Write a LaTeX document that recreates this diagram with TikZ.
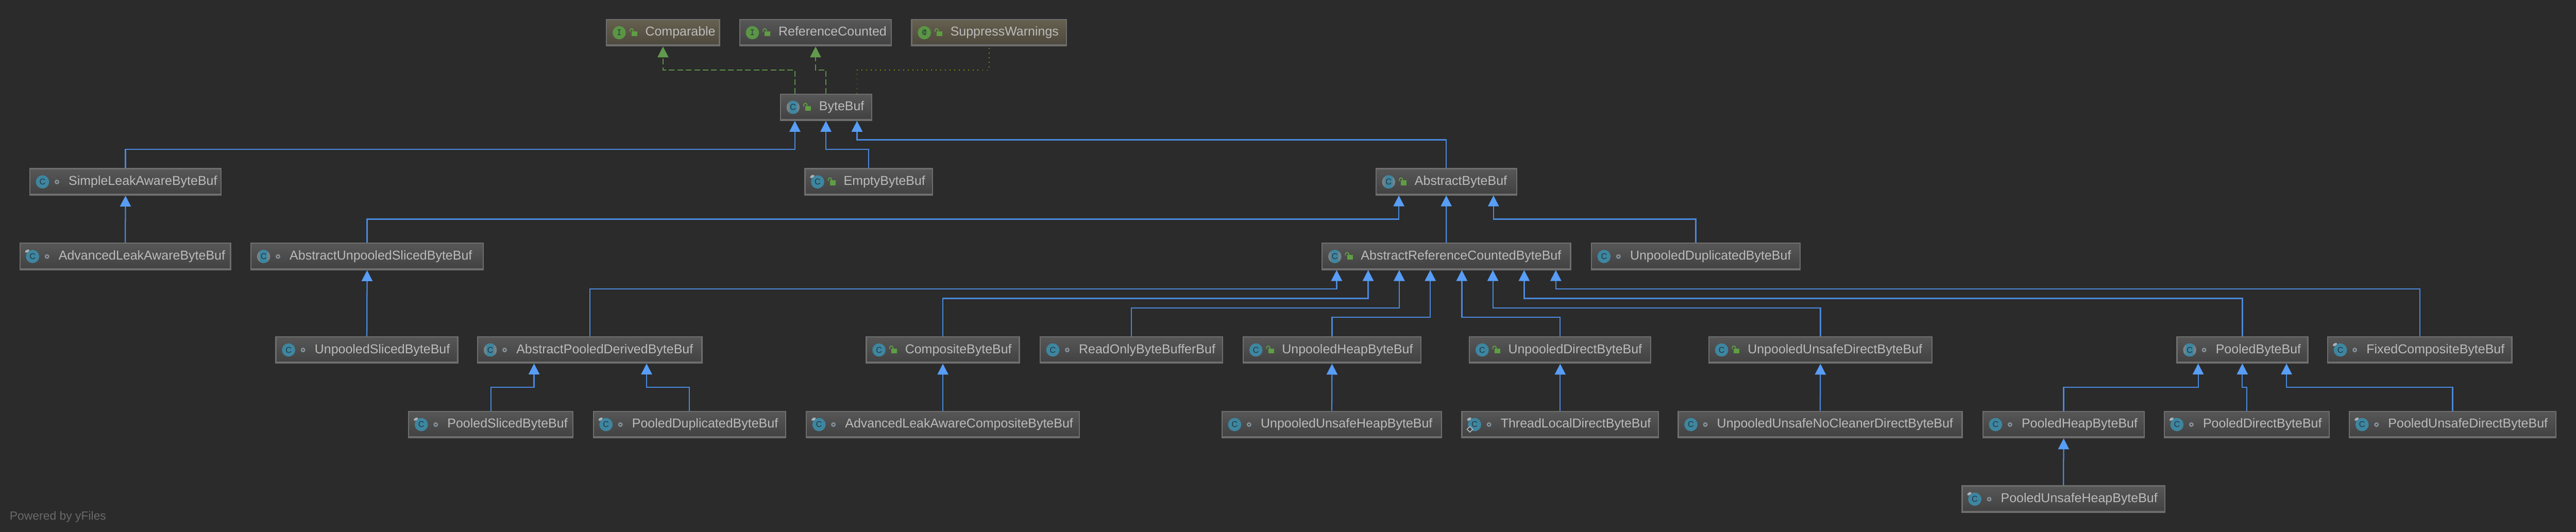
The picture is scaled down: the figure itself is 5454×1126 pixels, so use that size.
\documentclass[tikz,border=0pt]{standalone}
\usepackage{fontspec}
\setmainfont{Liberation Sans}
\usetikzlibrary{arrows.meta}
\definecolor{canvas}{HTML}{2B2B2B}
\definecolor{boxedge}{HTML}{6E6E6E}
\definecolor{boxtop}{HTML}{575757}
\definecolor{boxlow}{HTML}{414141}
\definecolor{annotop}{HTML}{66604F}
\definecolor{annolow}{HTML}{4C483C}
\definecolor{labelgray}{HTML}{BBBBBB}
\definecolor{footgray}{HTML}{6A6A6A}
\definecolor{extline}{HTML}{4A88DC}
\definecolor{exttip}{HTML}{589DF6}
\definecolor{implline}{HTML}{5C8F48}
\definecolor{impltip}{HTML}{619A4D}
\definecolor{annoline}{HTML}{7F8C00}
\definecolor{classblue}{HTML}{3E86A0}
\definecolor{ifacegreen}{HTML}{5A9645}
\definecolor{markdark}{HTML}{23343D}
\definecolor{abstractgray}{HTML}{75838B}
\definecolor{pingray}{HTML}{A9B2B8}
\definecolor{lockgreen}{HTML}{5F9E42}
\definecolor{ringgray}{HTML}{87929A}
\tikzstyle{classbox} = [anchor=north west, draw=boxedge, line width=0.7pt, inner xsep=0pt, inner ysep=0pt,
    top color=boxtop, bottom color=boxlow, text=labelgray, font=\fontsize{7.75}{9}\selectfont,
    text width={(#1-2)*0.01cm}, align=left, minimum height=0.56cm, text height=5.6pt, text depth=1.6pt,
    execute at begin node={\hspace*{0.82cm}},
    path picture={\fill[boxedge] ([yshift=0.035cm]path picture bounding box.south west) rectangle (path picture bounding box.south east);}]
\tikzstyle{annobox} = [top color=annotop, bottom color=annolow]
\tikzstyle{extends} = [draw=extline, line width=0.7pt, -{Triangle[length=0.23cm, width=0.23cm, color=exttip]}]
\tikzstyle{implements} = [draw=implline, line width=0.6pt, dash pattern=on 3.4pt off 1.7pt, -{Triangle[length=0.23cm, width=0.23cm, color=impltip]}]
\tikzstyle{annotated} = [draw=annoline, line width=0.55pt, dash pattern=on 0.6pt off 2.2pt]
\tikzstyle{markletter} = [circle, inner sep=0pt, minimum size=0.28cm, text=markdark]
% class marks, the shift puts them in the left end of a box
\newcommand{\markclass}[1]{\node[markletter, fill=classblue, font=\fontsize{5}{5}\selectfont] (#1-mark) at ([xshift=0.28cm]#1.west) {C};}
\newcommand{\markabstract}[1]{
    \node[markletter, fill=abstractgray, font=\fontsize{5}{5}\selectfont, path picture={\fill[classblue] ([xshift=0.057cm]path picture bounding box.south west) rectangle ([xshift=-0.057cm]path picture bounding box.north east);}] (#1-mark) at ([xshift=0.28cm]#1.west) {C};
}
\newcommand{\markfinal}[1]{
    \markclass{#1}
    \fill[pingray, shift={([shift={(-0.115cm,0.115cm)}]#1-mark.center)}, rotate=30] (0,0) ellipse (0.05cm and 0.028cm);
}
\newcommand{\marklock}[1]{
    \begin{scope}[shift={(#1.west)}]
        \fill[lockgreen] (54,-3) rectangle (66,7);
        \draw[lockgreen, line width=0.55pt] (50.7,-2) -- (50.7,-5) arc (180:360:3.5) -- (57.7,-3);
    \end{scope}
}
\begin{document}
\begin{tikzpicture}[x=0.01cm, y=-0.01cm]
    \useasboundingbox (0,0) rectangle (5454,1126);
    \fill[canvas] (-10,-10) rectangle (5464,1136);
    % top row
    \node[classbox=241, annobox] (comparable) at (1283,40) {Comparable};
    \node[classbox=323] (refcounted) at (1565,40) {ReferenceCounted};
    \node[classbox=330, annobox] (suppress) at (1929,40) {SuppressWarnings};
    \node[classbox=195] (bytebuf) at (1651,198) {ByteBuf};
    % second level
    \node[classbox=407] (simpleleak) at (62,356) {SimpleLeakAwareByteBuf};
    \node[classbox=272] (empty) at (1703,356) {EmptyByteBuf};
    \node[classbox=300] (abstractbuf) at (2912,356) {AbstractByteBuf};
    % third level
    \node[classbox=448] (advancedleak) at (41,514) {AdvancedLeakAwareByteBuf};
    \node[classbox=494] (abstractsliced) at (530,514) {AbstractUnpooledSlicedByteBuf};
    \node[classbox=528] (abstractcounted) at (2798,514) {AbstractReferenceCountedByteBuf};
    \node[classbox=444] (unpoolduplicated) at (3368,514) {UnpooledDuplicatedByteBuf};
    % fourth level
    \node[classbox=387] (unpoolsliced) at (583,712) {UnpooledSlicedByteBuf};
    \node[classbox=477] (poolderived) at (1010,712) {AbstractPooledDerivedByteBuf};
    \node[classbox=326] (composite) at (1833,712) {CompositeByteBuf};
    \node[classbox=388] (readonly) at (2201,712) {ReadOnlyByteBufferBuf};
    \node[classbox=378] (unpoolheap) at (2631,712) {UnpooledHeapByteBuf};
    \node[classbox=386] (unpooldirect) at (3110,712) {UnpooledDirectByteBuf};
    \node[classbox=474] (unpoolunsafe) at (3617,712) {UnpooledUnsafeDirectByteBuf};
    \node[classbox=279] (pooledbuf) at (4608,712) {PooledByteBuf};
    \node[classbox=392] (fixedcomposite) at (4927,712) {FixedCompositeByteBuf};
    % fifth level
    \node[classbox=350] (poolsliced) at (864,870) {PooledSlicedByteBuf};
    \node[classbox=409] (poolduplicated) at (1255,870) {PooledDuplicatedByteBuf};
    \node[classbox=580] (advancedcomposite) at (1706,870) {AdvancedLeakAwareCompositeByteBuf};
    \node[classbox=467] (unpoolunsafeheap) at (2586,870) {UnpooledUnsafeHeapByteBuf};
    \node[classbox=418] (threadlocal) at (3094,870) {ThreadLocalDirectByteBuf};
    \node[classbox=603] (nocleaner) at (3552,870) {UnpooledUnsafeNoCleanerDirectByteBuf};
    \node[classbox=344] (poolheap) at (4197,870) {PooledHeapByteBuf};
    \node[classbox=351] (pooldirect) at (4581,870) {PooledDirectByteBuf};
    \node[classbox=439] (poolunsafedirect) at (4973,870) {PooledUnsafeDirectByteBuf};
    \node[classbox=431] (poolunsafeheap) at (4153,1028) {PooledUnsafeHeapByteBuf};
    \node[anchor=base west, text=footgray, inner sep=0pt, font=\fontsize{7.1}{9}\selectfont] (powered) at (20,1101) {Powered by yFiles};
    % marks
    \foreach \name in {simpleleak,unpoolsliced,unpoolduplicated,composite,readonly,unpoolheap,unpooldirect,unpoolunsafe,unpoolunsafeheap,nocleaner,poolheap}
        \markclass{\name};
    \foreach \name in {bytebuf,abstractbuf,abstractcounted,abstractsliced,poolderived,pooledbuf}
        \markabstract{\name};
    \foreach \name in {empty,advancedleak,poolsliced,poolduplicated,advancedcomposite,threadlocal,pooldirect,poolunsafedirect,fixedcomposite,poolunsafeheap}
        \markfinal{\name};
    \draw[pingray, fill=boxlow, line width=0.55pt] ([shift={(-0.16cm,-0.1cm)}]threadlocal-mark.center) -- ([shift={(-0.1cm,-0.04cm)}]threadlocal-mark.center) -- ([shift={(-0.04cm,-0.1cm)}]threadlocal-mark.center) -- ([shift={(-0.1cm,-0.16cm)}]threadlocal-mark.center) -- cycle;
    \node[markletter, fill=ifacegreen, font=\ttfamily\fontsize{5.5}{6}\selectfont] (comparable-mark) at ([xshift=0.28cm]comparable.west) {I};
    \node[markletter, fill=ifacegreen, font=\ttfamily\fontsize{5.5}{6}\selectfont] (refcounted-mark) at ([xshift=0.28cm]refcounted.west) {I};
    \node[markletter, fill=ifacegreen, font=\ttfamily\fontsize{5.5}{6}\selectfont] (suppress-mark) at ([xshift=0.28cm]suppress.west) {@};
    % public ones have a lock, the others a ring
    \foreach \name in {comparable,refcounted,suppress,bytebuf,empty,abstractbuf,abstractcounted,composite,unpoolheap,unpooldirect,unpoolunsafe}
        \marklock{\name};
    \foreach \name in {simpleleak,advancedleak,abstractsliced,unpoolsliced,unpoolduplicated,poolderived,readonly,pooledbuf,fixedcomposite,poolsliced,poolduplicated,advancedcomposite,unpoolunsafeheap,threadlocal,nocleaner,poolheap,pooldirect,poolunsafedirect,poolunsafeheap}
        \draw[ringgray, line width=0.75pt] ([xshift=0.585cm]\name.west) circle (0.035cm);
    % where the arrows meet their parents
    \foreach \i/\x in {1/1683,2/1748.6,3/1814.5}
        \coordinate (bytebuf\i) at (\x,256);
    \foreach \i/\x in {1/1683,2/1748.6,3/1814.5}
        \coordinate (bytebuftop\i) at (\x,198);
    \foreach \i/\x in {1/2961.7,2/3062,3/3162}
        \coordinate (abstractbuf\i) at (\x,414);
    \foreach \i/\x in {1/2830,2/2896.7,3/2962.5,4/3028.3,5/3095,6/3160.7,7/3227,8/3294}
        \coordinate (counted\i) at (\x,572);
    \foreach \i/\x in {1/1130.7,2/1369}
        \coordinate (derived\i) at (\x,770);
    \foreach \i/\x in {1/4654,2/4747.5,3/4841}
        \coordinate (pooled\i) at (\x,770);
    % interfaces
    \draw[implements] (bytebuftop1) -- (bytebuftop1 |- 0,148) -| (comparable.south);
    \draw[implements] (bytebuftop2) -- (bytebuftop2 |- 0,148) -| (refcounted.south);
    \draw[annotated] (bytebuftop3) -- (bytebuftop3 |- 0,148) -| (suppress.south);
    % inheritance
    \draw[extends] (simpleleak.north) -- (simpleleak.north |- 0,316) -| (bytebuf1);
    \draw[extends] (empty.north) -- (empty.north |- 0,316) -| (bytebuf2);
    \draw[extends] (abstractbuf.north) -- (abstractbuf.north |- 0,296) -| (bytebuf3);
    \draw[extends] (advancedleak.north) -- (simpleleak.south);
    \draw[extends] (abstractsliced.north) -- (abstractsliced.north |- 0,464) -| (abstractbuf1);
    \draw[extends] (abstractcounted.north) -- (abstractbuf2);
    \draw[extends] (unpoolduplicated.north) -- (unpoolduplicated.north |- 0,464) -| (abstractbuf3);
    \draw[extends] (unpoolsliced.north) -- (abstractsliced.south);
    \draw[extends] (poolderived.north) -- (poolderived.north |- 0,612) -| (counted1);
    \draw[extends] (composite.north) -- (composite.north |- 0,632) -| (counted2);
    \draw[extends] (readonly.north) -- (readonly.north |- 0,652) -| (counted3);
    \draw[extends] (unpoolheap.north) -- (unpoolheap.north |- 0,672) -| (counted4);
    \draw[extends] (unpooldirect.north) -- (unpooldirect.north |- 0,672) -| (counted5);
    \draw[extends] (unpoolunsafe.north) -- (unpoolunsafe.north |- 0,652) -| (counted6);
    \draw[extends] (pooledbuf.north) -- (pooledbuf.north |- 0,632) -| (counted7);
    \draw[extends] (fixedcomposite.north) -- (fixedcomposite.north |- 0,612) -| (counted8);
    \draw[extends] (poolsliced.north) -- (poolsliced.north |- 0,820) -| (derived1);
    \draw[extends] (poolduplicated.north) -- (poolduplicated.north |- 0,820) -| (derived2);
    \draw[extends] (advancedcomposite.north) -- (composite.south);
    \draw[extends] (unpoolunsafeheap.north) -- (unpoolheap.south);
    \draw[extends] (threadlocal.north) -- (unpooldirect.south);
    \draw[extends] (nocleaner.north) -- (unpoolunsafe.south);
    \draw[extends] (poolheap.north) -- (poolheap.north |- 0,820) -| (pooled1);
    \draw[extends] (pooldirect.north) -- (pooldirect.north |- 0,820) -| (pooled2);
    \draw[extends] (poolunsafedirect.north) -- (poolunsafedirect.north |- 0,820) -| (pooled3);
    \draw[extends] (poolunsafeheap.north) -- (poolheap.south);
\end{tikzpicture}
\end{document}
